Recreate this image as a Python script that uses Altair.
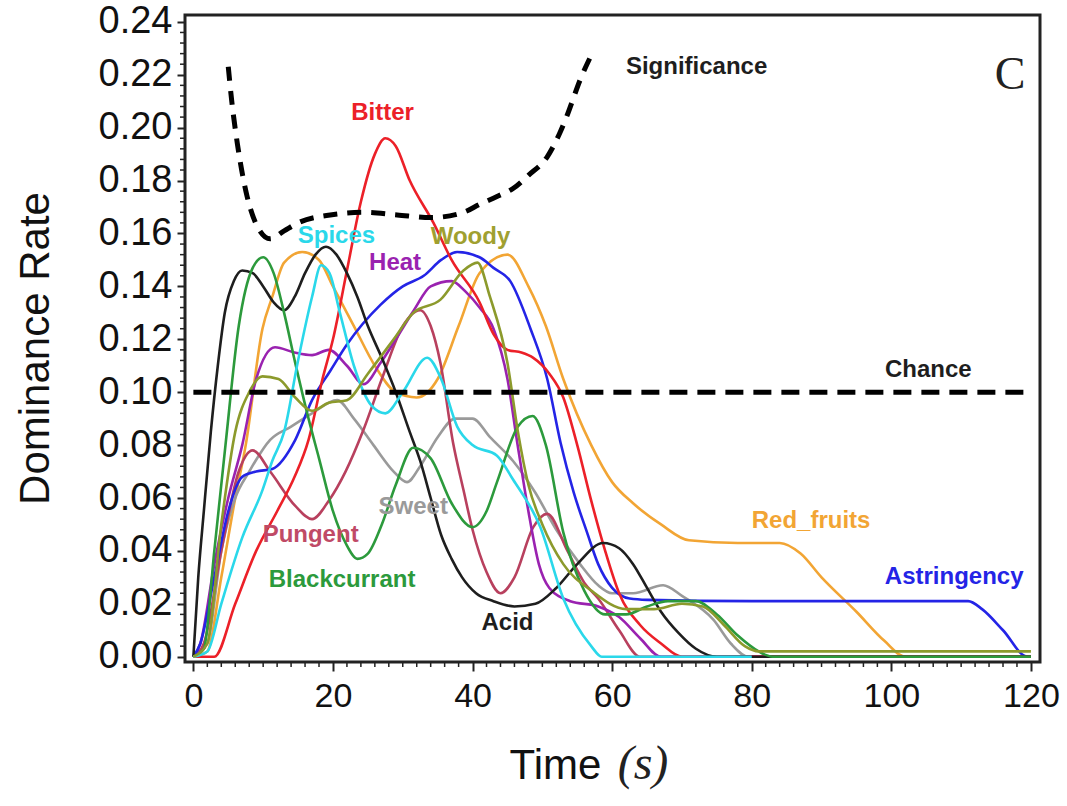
import altair as alt
import pandas as pd

# ---------------- data ----------------
series_names = ["Red_fruits", "Sweet", "Pungent", "Heat", "Astringency",
                "Bitter", "Acid", "Blackcurrant", "Spices", "Woody"]
series_colors = ["#f2a534", "#9a9a9a", "#b8405e", "#9a22b0", "#2424e6",
                 "#ec2028", "#1e1e1e", "#2c9a3c", "#2ad8ea", "#8c9a2c"]

red_fruits_t = [0, 2, 4, 6, 7.5, 9.9, 11.3, 13, 15.6, 18, 20, 23, 26, 29, 32, 35, 38, 41, 45, 48, 50.5, 53, 57, 60, 63, 67, 71, 78, 84, 87, 90, 95, 99, 102, 120]
red_fruits_v = [0, 0.002, 0.03, 0.06, 0.08, 0.124, 0.136, 0.149, 0.153, 0.15, 0.14, 0.125, 0.11, 0.1, 0.098, 0.105, 0.125, 0.145, 0.152, 0.14, 0.125, 0.105, 0.08, 0.066, 0.058, 0.05, 0.044, 0.043, 0.043, 0.039, 0.03, 0.017, 0.006, 0, 0]

sweet_t = [0, 2, 4, 6, 8, 11, 14, 17, 20.6, 23, 25.8, 28.7, 30.6, 32.5, 35, 37.5, 40, 42.5, 45.8, 49, 52, 55.4, 58, 60, 63, 67.3, 70, 74.5, 77, 79.5, 120]
sweet_v = [0, 0.005, 0.04, 0.06, 0.07, 0.082, 0.087, 0.092, 0.097, 0.09, 0.08, 0.07, 0.066, 0.072, 0.083, 0.09, 0.09, 0.083, 0.074, 0.062, 0.048, 0.035, 0.027, 0.024, 0.024, 0.027, 0.023, 0.014, 0.005, 0, 0]

pungent_t = [0, 1.5, 4, 6.5, 8.5, 11, 14.6, 17, 19.4, 21.8, 24.4, 27, 30, 32.5, 34, 35.4, 37.2, 38.7, 40, 42, 44, 46, 48.7, 50.7, 53.6, 56, 58, 61, 64, 120]
pungent_v = [0, 0.005, 0.04, 0.07, 0.078, 0.07, 0.057, 0.052, 0.059, 0.07, 0.086, 0.105, 0.125, 0.131, 0.125, 0.111, 0.081, 0.063, 0.048, 0.032, 0.024, 0.03, 0.049, 0.054, 0.04, 0.028, 0.022, 0.01, 0, 0]

heat_t = [0, 1, 3, 5, 7, 9, 11.7, 14.5, 17, 19.4, 22, 24.4, 26.8, 29, 31.6, 34, 37, 39, 41, 43, 45, 46.4, 48, 49.5, 51, 54, 58, 61, 64, 67, 120]
heat_v = [0, 0.005, 0.035, 0.06, 0.08, 0.105, 0.117, 0.115, 0.114, 0.116, 0.11, 0.103, 0.111, 0.12, 0.131, 0.14, 0.142, 0.138, 0.132, 0.124, 0.105, 0.081, 0.055, 0.035, 0.026, 0.021, 0.019, 0.015, 0.007, 0, 0]

astringency_t = [0, 1, 3, 5, 7, 9, 11.3, 14.6, 17, 19.6, 22, 26.8, 30, 33, 35.5, 37.8, 41, 43, 45.4, 48.3, 50.7, 52.6, 54.5, 56.4, 58, 60, 62.5, 65, 80, 100, 111, 113, 116, 119.5, 120]
astringency_v = [0, 0.005, 0.03, 0.055, 0.068, 0.07, 0.071, 0.082, 0.097, 0.108, 0.118, 0.133, 0.14, 0.144, 0.15, 0.153, 0.151, 0.147, 0.142, 0.124, 0.105, 0.081, 0.062, 0.047, 0.035, 0.026, 0.022, 0.0215, 0.021, 0.021, 0.021, 0.018, 0.01, 0, 0]

bitter_t = [0, 3, 6, 9, 12, 14.5, 16.5, 18.5, 20, 22, 24, 26, 27.5, 29, 31, 34.4, 37, 41, 43, 45, 47, 48.7, 51, 53, 55, 57, 59, 61, 64, 67, 70, 120]
bitter_v = [0, 0, 0.02, 0.04, 0.055, 0.068, 0.082, 0.105, 0.12, 0.146, 0.172, 0.19, 0.196, 0.193, 0.18, 0.164, 0.15, 0.134, 0.122, 0.116, 0.115, 0.113, 0.107, 0.098, 0.08, 0.059, 0.04, 0.024, 0.012, 0.005, 0, 0]

acid_t = [0, 0.7, 1.5, 2.5, 3.5, 4.5, 5.8, 7, 8.5, 10, 11.5, 13, 14.5, 16, 17.5, 19, 20.5, 22, 23.5, 25, 27, 29, 31, 32.5, 34, 35.5, 37, 38.5, 40.5, 43, 46, 49, 52, 55, 58.7, 61, 63, 65, 67, 69.5, 72, 75, 120]
acid_v = [0, 0.03, 0.055, 0.085, 0.11, 0.13, 0.142, 0.146, 0.145, 0.14, 0.134, 0.131, 0.136, 0.145, 0.152, 0.155, 0.152, 0.145, 0.136, 0.125, 0.113, 0.1, 0.085, 0.074, 0.06, 0.046, 0.037, 0.03, 0.024, 0.021, 0.019, 0.02, 0.026, 0.035, 0.043, 0.041, 0.035, 0.026, 0.017, 0.009, 0.003, 0, 0]

blackcurrant_t = [0, 1.5, 3, 4.6, 6.5, 8.5, 10, 11.5, 13, 14.6, 16.5, 18, 20, 22, 23.5, 25, 27, 29, 31.5, 34, 37, 40, 42, 43.5, 46.5, 48.6, 50.5, 53, 56, 59, 62, 65, 68, 72, 75, 78, 81, 83, 120]
blackcurrant_v = [0, 0.003, 0.04, 0.08, 0.125, 0.147, 0.151, 0.145, 0.13, 0.111, 0.09, 0.075, 0.055, 0.042, 0.037, 0.039, 0.05, 0.065, 0.079, 0.075, 0.058, 0.049, 0.055, 0.066, 0.087, 0.091, 0.08, 0.047, 0.025, 0.016, 0.016, 0.019, 0.021, 0.021, 0.016, 0.008, 0.002, 0, 0]

spices_t = [0, 2, 4, 7, 9.9, 11.3, 13, 15, 17, 18.3, 19.5, 21, 23, 25.5, 27.5, 30, 33.5, 35.5, 37.8, 40, 43.5, 45.8, 49.7, 53, 57, 58.5, 80]
spices_v = [0, 0.002, 0.02, 0.045, 0.063, 0.074, 0.085, 0.112, 0.136, 0.148, 0.145, 0.13, 0.11, 0.095, 0.092, 0.1, 0.113, 0.105, 0.087, 0.08, 0.076, 0.067, 0.049, 0.022, 0.004, 0, 0]

woody_t = [0, 2, 4, 6, 8, 9.9, 12.2, 14.6, 17, 19.4, 22, 25, 28.7, 31.5, 35.4, 38.7, 40.7, 42.5, 45, 46.5, 48, 50, 53, 57, 62, 66, 70, 73, 76, 79, 81, 120]
woody_v = [0, 0.005, 0.05, 0.085, 0.1, 0.106, 0.105, 0.098, 0.093, 0.096, 0.097, 0.107, 0.12, 0.13, 0.135, 0.146, 0.149, 0.136, 0.111, 0.085, 0.065, 0.05, 0.035, 0.025, 0.018, 0.018, 0.02, 0.019, 0.012, 0.004, 0.002, 0.002]

chance_t = [0, 120]
chance_v = [0.10, 0.10]

significance_t = [5, 5.5, 6.3, 7.7, 9.2, 11, 13, 15, 19.6, 24.4, 29.2, 34, 38.7, 41, 43.5, 45.8, 48, 50.7, 52.5, 53.6, 55.4, 57.3]
significance_v = [0.223, 0.21, 0.194, 0.174, 0.1625, 0.158, 0.161, 0.164, 0.167, 0.168, 0.167, 0.166, 0.168, 0.171, 0.174, 0.177, 0.182, 0.189, 0.198, 0.205, 0.218, 0.229]

label_text = ["Bitter", "Spices", "Woody", "Heat", "Chance", "Red_fruits", "Astringency",
              "Pungent", "Sweet", "Blackcurrant", "Acid", "Significance"]
label_t = [27.1, 20.5, 39.7, 28.9, 105.3, 88.5, 109.0, 16.8, 31.5, 21.3, 45.0, 72.1]
label_v = [0.2055, 0.159, 0.1587, 0.149, 0.1085, 0.0514, 0.0302, 0.046, 0.0567, 0.029, 0.0128, 0.223]
label_color = ["#ec2028", "#2ad8ea", "#a0a030", "#9a22b0", "#1e1e1e", "#f2a534", "#2424e6",
               "#c04a66", "#9a9a9a", "#2c9a3c", "#1e1e1e", "#1e1e1e"]

x_ticks = [0, 20, 40, 60, 80, 100, 120]
y_ticks = [0.00, 0.02, 0.04, 0.06, 0.08, 0.10, 0.12, 0.14, 0.16, 0.18, 0.20, 0.22, 0.24]
x_minor = [t for t in range(0, 122, 2) if t % 20 != 0]
y_minor = [round(i * 0.004, 3) for i in range(0, 61) if i % 5 != 0]

# ---------------- build tables ----------------
series_data = {
    "Red_fruits": (red_fruits_t, red_fruits_v),
    "Sweet": (sweet_t, sweet_v),
    "Pungent": (pungent_t, pungent_v),
    "Heat": (heat_t, heat_v),
    "Astringency": (astringency_t, astringency_v),
    "Bitter": (bitter_t, bitter_v),
    "Acid": (acid_t, acid_v),
    "Blackcurrant": (blackcurrant_t, blackcurrant_v),
    "Spices": (spices_t, spices_v),
    "Woody": (woody_t, woody_v),
}
rows = []
for name in series_names:
    ts, vs = series_data[name]
    for t, v in zip(ts, vs):
        rows.append({"series": name, "t": t, "v": v})
df = pd.DataFrame(rows)

chance_df = pd.DataFrame({"t": chance_t, "v": chance_v})
sig_df = pd.DataFrame({"t": significance_t, "v": significance_v})
lab_df = pd.DataFrame({"t": label_t, "v": label_v, "text": label_text, "c": label_color})

W, H = 855, 647

x_scale = alt.Scale(domain=[-1.2, 121.3], nice=False, zero=False)
y_scale = alt.Scale(domain=[-0.002, 0.2426], nice=False, zero=False)

x_axis = alt.Axis(values=x_ticks, title="Time", format="d", labelFontSize=34, tickSize=9,
                  labelPadding=8, titleFontSize=42, titleX=370, titleY=103,
                  titleBaseline="middle", titleAlign="center", titleAngle=0)
y_axis = alt.Axis(values=y_ticks, format=".2f", title="Dominance Rate", labelFontSize=38,
                  tickSize=8, labelPadding=5, titleFontSize=42, titleX=-150, titleY=333,
                  titleBaseline="middle", titleAlign="center", titleAngle=-90)

X = alt.X("t:Q", scale=x_scale, axis=x_axis)
Y = alt.Y("v:Q", scale=y_scale, axis=y_axis)

lines = alt.Chart(df).mark_line(strokeWidth=2.6, interpolate="monotone").encode(
    x=X, y=Y,
    color=alt.Color("series:N", scale=alt.Scale(domain=series_names, range=series_colors), legend=None),
)

chance = alt.Chart(chance_df).mark_line(color="black", strokeWidth=5, strokeDash=[18, 10]).encode(x=X, y=Y)
sig = alt.Chart(sig_df).mark_line(color="black", strokeWidth=5, strokeDash=[14, 10],
                                  interpolate="monotone").encode(x=X, y=Y)

labels = alt.Chart(lab_df).mark_text(font="Liberation Sans", fontWeight="bold", fontSize=24).encode(
    x=X, y=Y, text="text:N", color=alt.Color("c:N", scale=None)
)

panel_df = pd.DataFrame({"t": [117.0], "v": [0.22], "text": ["C"]})
panel = alt.Chart(panel_df).mark_text(font="Liberation Serif", fontSize=46, color="#222").encode(
    x=X, y=Y, text="text:N")

unit_df = pd.DataFrame({"text": ["(s)"]})
unit = alt.Chart(unit_df).mark_text(font="Liberation Serif", fontSize=48, fontStyle="italic",
                                    color="#222", baseline="middle").encode(
    x=alt.value(458), y=alt.value(750), text="text:N")

xminor = alt.Chart(pd.DataFrame({"t": x_minor})).mark_rule(color="#222", strokeWidth=1.5).encode(
    x=X, y=alt.value(H), y2=alt.value(H + 5))
yminor = alt.Chart(pd.DataFrame({"v": y_minor})).mark_rule(color="#222", strokeWidth=1.5).encode(
    y=Y, x=alt.value(0), x2=alt.value(-5))

chart = alt.layer(lines, chance, sig, labels, panel, unit, xminor, yminor).properties(
    width=W, height=H, autosize="none",
    padding={"left": 185, "top": 15, "right": 27, "bottom": 144},
    background="white",
).configure_view(stroke="#222", strokeWidth=3).configure_axis(
    domain=False, grid=False, tickColor="#222", tickWidth=2, labelColor="#111",
    titleColor="#111", labelFont="Liberation Sans", titleFont="Liberation Sans",
    titleFontWeight="normal")

chart.save("out.html", embed_options={"renderer": "svg", "actions": False})
